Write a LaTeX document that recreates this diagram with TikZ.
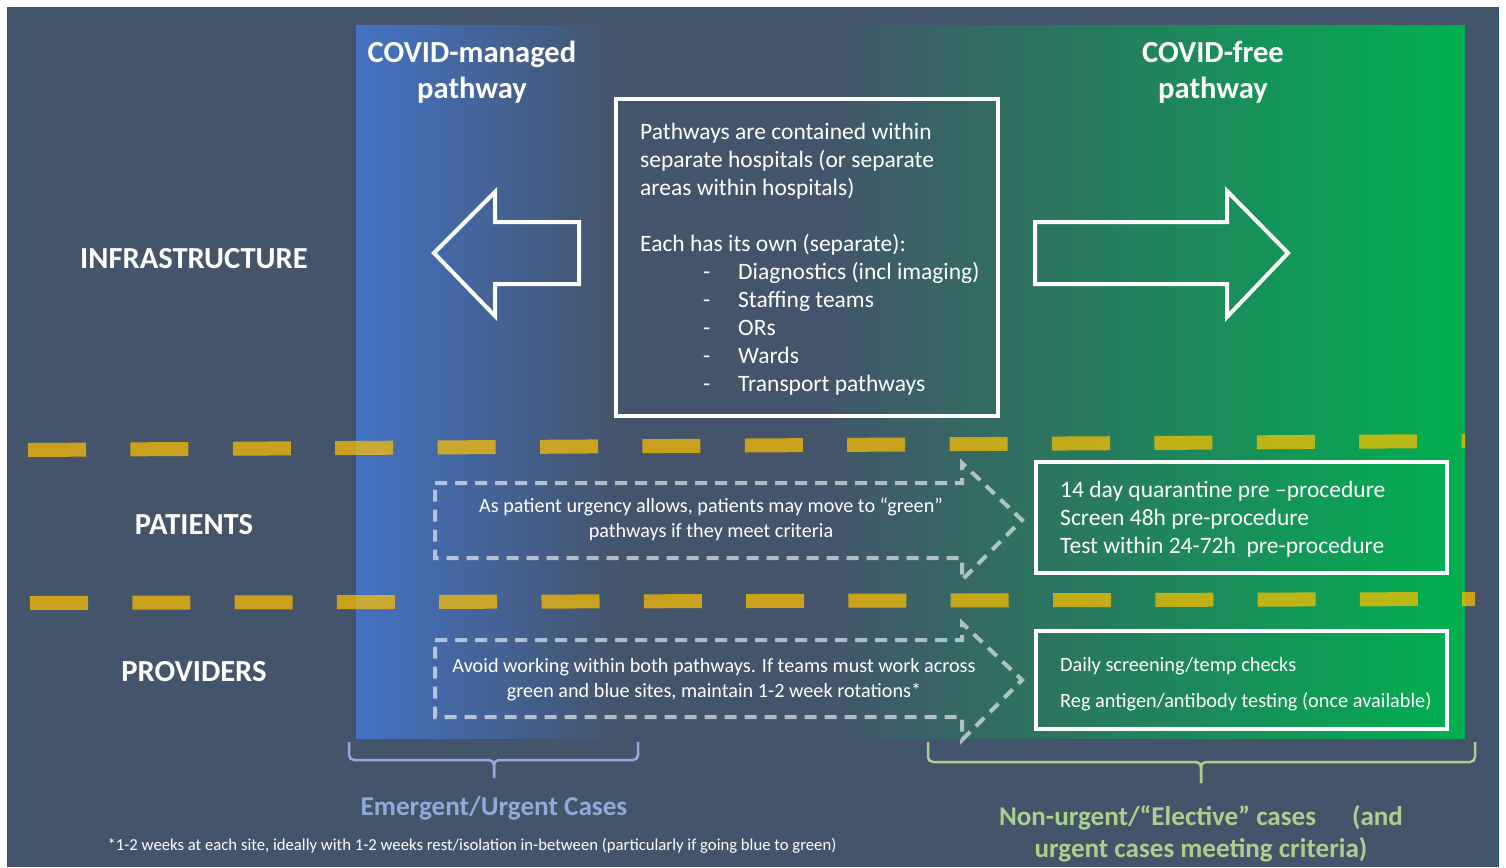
\documentclass[tikz,border=0pt]{standalone}
\usepackage{fontspec}
\setmainfont{Carlito}
\definecolor{slate}{HTML}{44546A}
\definecolor{cblue}{HTML}{4472C4}
\definecolor{cgreen}{HTML}{00B050}
\definecolor{gold}{HTML}{FFC000}
\definecolor{bracebl}{HTML}{8FAADC}
\definecolor{bracegr}{HTML}{A9D18E}
\definecolor{edgeblue}{HTML}{2F5597}
\pgfdeclarehorizontalshading{pathshade}{100bp}{color(0bp)=(cblue); color(25bp)=(cblue); color(37bp)=(slate); color(46bp)=(slate); color(75bp)=(cgreen); color(100bp)=(cgreen)}
\tikzset{
  lbl/.style={text=white, font=\bfseries\fontsize{30.6}{36}\selectfont, inner sep=0pt},
  ttl/.style={text=white, align=center, font=\bfseries\fontsize{30.6}{36}\selectfont, inner sep=0pt},
  wbox/.style={draw=white, line width=3.5pt, inner sep=0pt},
  bigarrow/.style={draw=white, line width=4pt, line join=miter},
  chev/.style={draw=white, draw opacity=0.6, line width=4pt, dash pattern=on 12pt off 8pt},
  ydash/.style={draw=gold, draw opacity=0.72, line width=14pt},
  txtA/.style={text=white, align=left, anchor=west, inner sep=0pt, font=\fontsize{23.5}{28}\selectfont},
  txtB/.style={text=white, align=center, inner sep=0pt, font=\fontsize{20.2}{25}\selectfont},
  brace/.style={line width=2.5pt, rounded corners=5pt},
}
\begin{document}
\begin{tikzpicture}[x=1pt, y=-1pt]
\useasboundingbox (0,0) rectangle (1506,867);
\fill[white] (0,0) rectangle (1506,867);
\fill[slate] (7,7) rectangle (1499,867);
\draw[edgeblue, line width=1.5pt] (7.5,7) -- (7.5,867) (1498.5,7) -- (1498.5,867);
% gradient pathway area
\shade[shading=pathshade] (356,26) rectangle (1465,738);
% titles
\node[ttl] (tman) at (472,72) {COVID-managed\\pathway};
\node[ttl] (tfree) at (1213,72) {COVID-free\\pathway};
% row labels
\node[lbl] (infra) at (194,259) {INFRASTRUCTURE};
\node[lbl] (pat) at (194,525) {PATIENTS};
\node[lbl] (prov) at (194,672) {PROVIDERS};
% big arrows
\draw[bigarrow] (434,253) -- (495,192) -- (495,222) -- (579,222) -- (579,284) -- (495,284) -- (495,316) -- cycle;
\draw[bigarrow] (1288,253) -- (1227,191) -- (1227,222) -- (1035,222) -- (1035,284) -- (1227,284) -- (1227,317) -- cycle;
% central box
\node[wbox, minimum width=382pt, minimum height=317pt] (cbox) at (807,257.5) {};
\node[txtA] (ctext) at (640,259) {Pathways are contained within\\separate hospitals (or separate\\areas within hospitals)\\[28pt]Each has its own (separate):\\
\hspace*{63pt}\makebox[35pt][l]{-}Diagnostics (incl imaging)\\
\hspace*{63pt}\makebox[35pt][l]{-}Staffing teams\\
\hspace*{63pt}\makebox[35pt][l]{-}ORs\\
\hspace*{63pt}\makebox[35pt][l]{-}Wards\\
\hspace*{63pt}\makebox[35pt][l]{-}Transport pathways};
% yellow dashed separators
\draw[ydash, dash pattern=on 58pt off 44.4pt] (28,450) -- (1465,441);
\draw[ydash, dash pattern=on 58pt off 44.3pt] (30,603) -- (1475,599);
% dashed chevrons
\draw[chev] (435,483) -- (962,483) -- (962,463) -- (1022,520) -- (962,580) -- (962,558) -- (435,558) -- cycle;
\node[txtB] (ptext) at (711,519.5) {As patient urgency allows, patients may move to “green”\\pathways if they meet criteria};
\draw[chev] (435,640) -- (962,640) -- (962,623) -- (1022,680) -- (962,740) -- (962,717) -- (435,717) -- cycle;
\node[txtB] (vtext) at (714,679.5) {Avoid working within both pathways. If teams must work across\\green and blue sites, maintain 1-2 week rotations*};
% green boxes
\node[wbox, minimum width=411pt, minimum height=111pt] (pbox) at (1241.5,517.5) {};
\node[txtA] (pbtext) at (1060,519) {14 day quarantine pre –procedure\\Screen 48h pre-procedure\\Test within 24-72h\ \ pre-procedure};
\node[wbox, minimum width=411pt, minimum height=98pt] (vbox) at (1241.5,680) {};
\node[txtA, font=\fontsize{20.3}{36}\selectfont] (vbtext) at (1060,684) {Daily screening/temp checks\\Reg antigen/antibody testing (once available)};
% braces
\coordinate (lb1) at (349,742);
\coordinate (lb2) at (638,742);
\coordinate (lbt) at (494,778);
\draw[brace, bracebl] (lb1) -- (349,760) -- (494,760) -- (lbt);
\draw[brace, bracebl] (lb2) -- (638,760) -- (494,760) -- (lbt);
\coordinate (rb1) at (928,742);
\coordinate (rb2) at (1475,742);
\coordinate (rbt) at (1201,783);
\draw[brace, bracegr] (rb1) -- (928,762) -- (1201,762) -- (rbt);
\draw[brace, bracegr] (rb2) -- (1475,762) -- (1201,762) -- (rbt);
% bottom captions
\node[text=bracebl, inner sep=0pt, font=\bfseries\fontsize{27.2}{32}\selectfont] (emerg) at (494,808) {Emergent/Urgent Cases};
\node[text=bracegr, inner sep=0pt, align=center, font=\bfseries\fontsize{27.1}{32}\selectfont] (elect) at (1201,834) {Non-urgent/“Elective” cases\hspace{36pt}(and\\urgent cases meeting criteria)};
\node[text=white, inner sep=0pt, font=\fontsize{16.7}{20}\selectfont] (foot) at (472,846) {*1-2 weeks at each site, ideally with 1-2 weeks rest/isolation in-between (particularly if going blue to green)};
\end{tikzpicture}
\end{document}
